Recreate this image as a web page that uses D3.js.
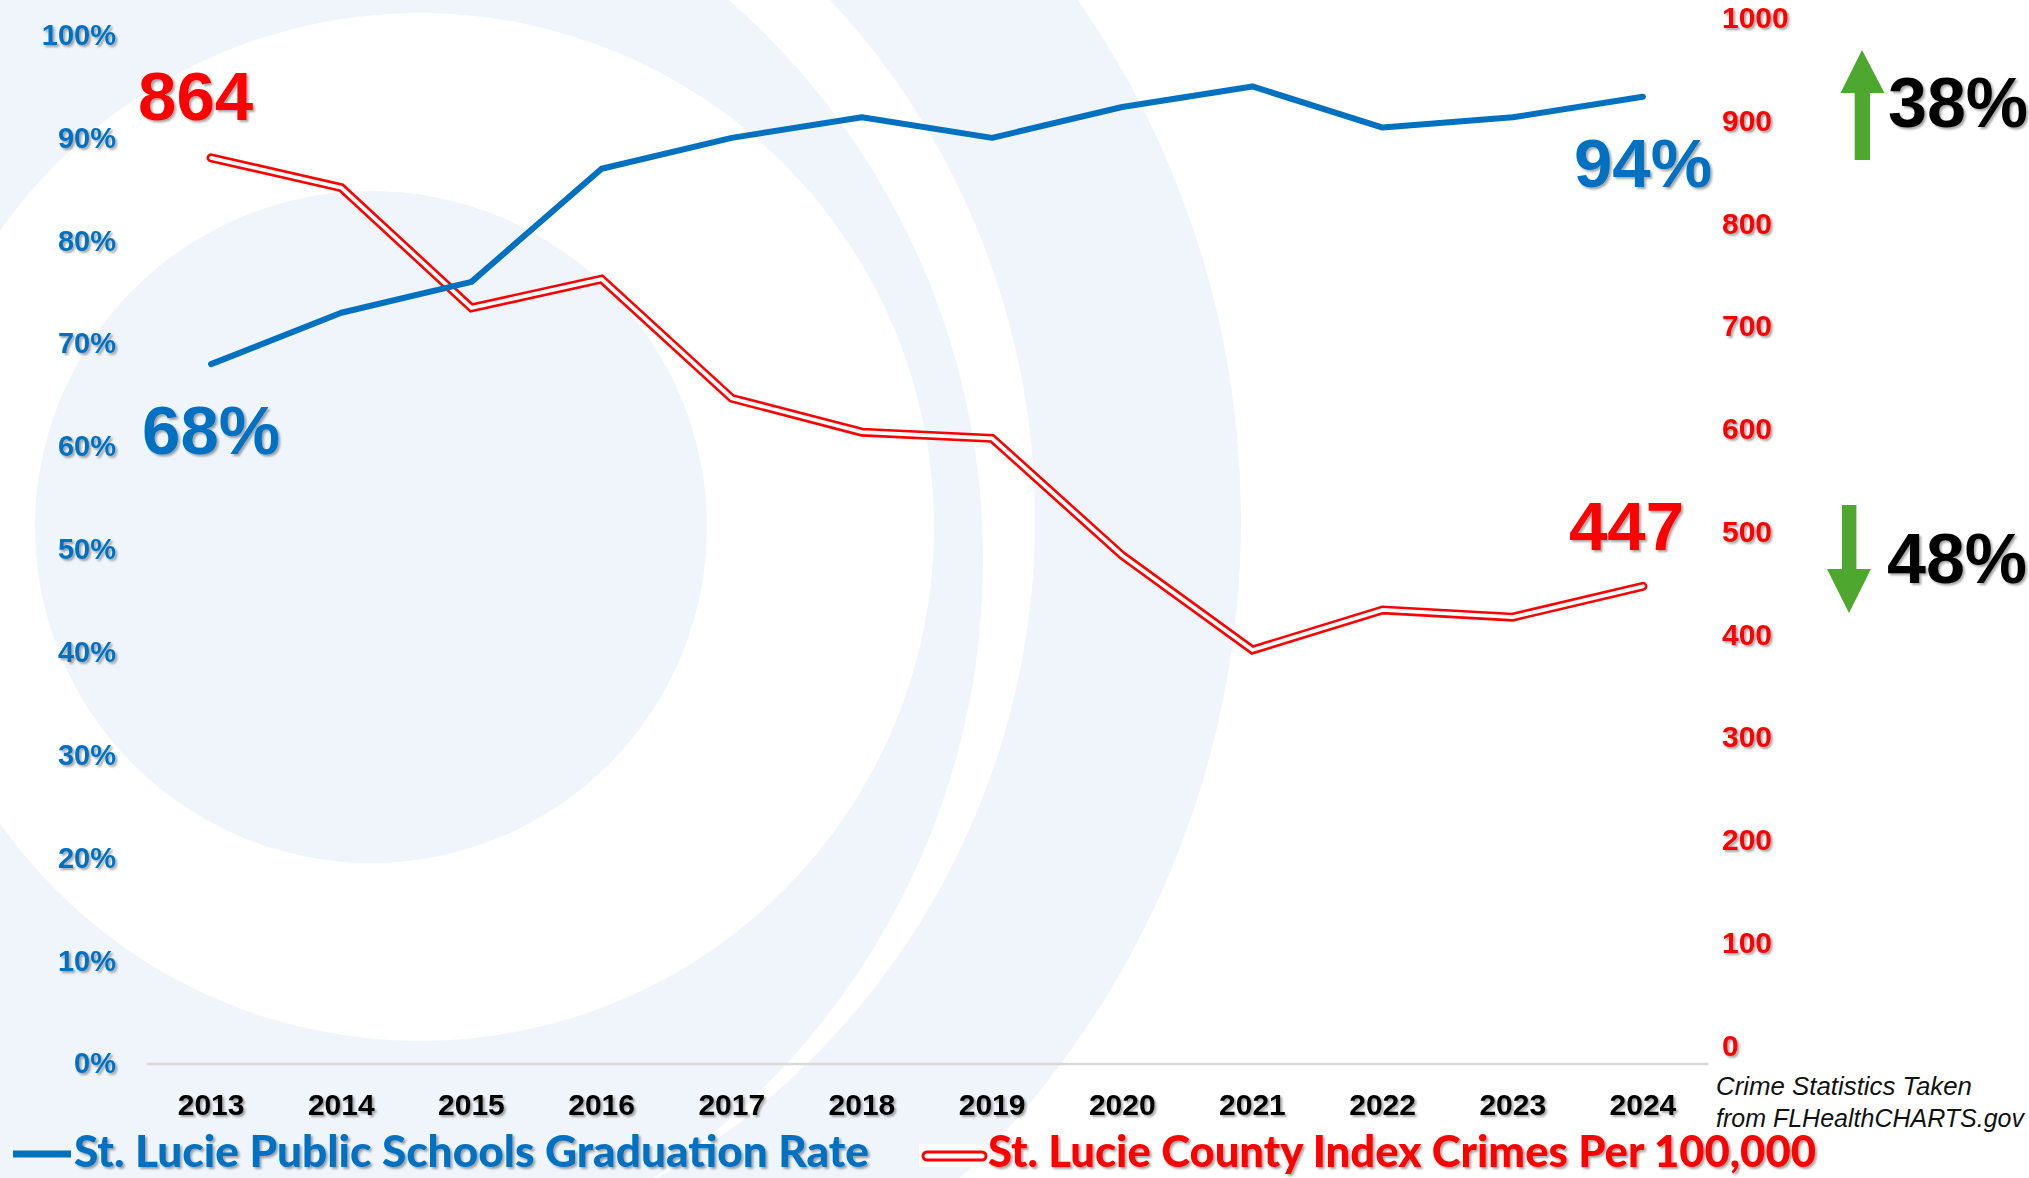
<!DOCTYPE html>
<html>
<head>
<meta charset="utf-8">
<script src="https://cdn.jsdelivr.net/npm/d3@7"></script>
<style>
  html, body { margin: 0; padding: 0; background: #ffffff; }
  svg { display: block; }
</style>
</head>
<body>
<div id="chart"></div>
<script>
// ---------------- DATA ----------------
const years = ["2013","2014","2015","2016","2017","2018","2019","2020","2021","2022","2023","2024"];
const gradRate = [68, 73, 76, 87, 90, 92, 90, 93, 95, 91, 92, 94];          // % (left axis)
const crimeRate = [864, 835, 718, 746, 630, 597, 591, 477, 385, 424, 417, 447]; // per 100,000 (right axis)
const leftTicks = [0, 10, 20, 30, 40, 50, 60, 70, 80, 90, 100];
const rightTicks = [0, 100, 200, 300, 400, 500, 600, 700, 800, 900, 1000];
const seriesNames = ["St. Lucie Public Schools Graduation Rate", "St. Lucie County Index Crimes Per 100,000"];
const changeLabels = ["38%", "48%"];
const sourceLines = ["Crime Statistics Taken", "from FLHealthCHARTS.gov"];

// ---------------- SETUP ----------------
const W = 2029, H = 1178;
const BLUE = "#0070C0", RED = "#FF0000", GREEN = "#4EA72E", LIGHT = "#EFF5FB";

const svg = d3.select("#chart").append("svg").attr("width", W).attr("height", H);
const defs = svg.append("defs");
const sh = defs.append("filter").attr("id", "shadow").attr("x", "-10%").attr("y", "-20%").attr("width", "130%").attr("height", "160%");
sh.append("feDropShadow").attr("dx", 2).attr("dy", 2).attr("stdDeviation", 1.2)
  .attr("flood-color", "#000").attr("flood-opacity", 0.35);

// background decoration (concentric-ish rings)
const bg = svg.append("g");
bg.append("rect").attr("width", W).attr("height", H).attr("fill", "#fff");
const rings = [
  {cx: 330, cy: 520, r: 911, fill: LIGHT},
  {cx: 273, cy: 520, r: 762, fill: "#fff"},
  {cx: 239, cy: 560, r: 744, fill: LIGHT},
  {cx: 420, cy: 527, r: 514, fill: "#fff"},
  {cx: 371, cy: 527, r: 336, fill: LIGHT}
];
bg.selectAll("circle").data(rings).join("circle")
  .attr("cx", d => d.cx).attr("cy", d => d.cy).attr("r", d => d.r).attr("fill", d => d.fill);

// ---------------- SCALES ----------------
const x = d3.scaleBand().domain(years).range([146, 1708]);
const xc = d => x(d) + x.bandwidth() / 2;
const yL = d3.scaleLinear().domain([0, 100]).range([1063.6, 35]);
const yR = d3.scaleLinear().domain([0, 1000]).range([1045.6, 18.1]);

// ---------------- AXES ----------------
const leftAxis = d3.axisLeft(yL).tickValues(leftTicks).tickFormat(d => d + "%").tickSize(0).tickPadding(0);
const gL = svg.append("g").attr("transform", "translate(116,0)").call(leftAxis);
gL.select(".domain").remove();
gL.selectAll("text").attr("fill", BLUE).attr("font-family", "'Liberation Sans', Arial, sans-serif")
  .attr("font-weight", "bold").attr("font-size", 29).attr("filter", "url(#shadow)");

const rightAxis = d3.axisRight(yR).tickValues(rightTicks).tickFormat(d3.format("d")).tickSize(0).tickPadding(0);
const gR = svg.append("g").attr("transform", "translate(1722,0)").call(rightAxis);
gR.select(".domain").remove();
gR.selectAll("text").attr("fill", RED).attr("font-family", "'Liberation Sans', Arial, sans-serif")
  .attr("font-weight", "bold").attr("font-size", 30).attr("filter", "url(#shadow)");

const bottomAxis = d3.axisBottom(x).tickSize(0).tickPadding(0);
const gB = svg.append("g").attr("transform", `translate(0,${yL(0)})`).call(bottomAxis);
gB.select(".domain").attr("stroke", "#D9D9D9").attr("stroke-width", 2.5);
gB.selectAll("text").attr("fill", "#000").attr("font-family", "'Liberation Sans', Arial, sans-serif")
  .attr("font-weight", "bold").attr("font-size", 30).attr("dy", 0).attr("y", 51)
  .attr("filter", "url(#shadow)");

// ---------------- LINES ----------------
const crimeLine = d3.line().x((d, i) => xc(years[i])).y(d => yR(d));
const gradLine = d3.line().x((d, i) => xc(years[i])).y(d => yL(d));

svg.append("path").datum(crimeRate).attr("d", crimeLine).attr("fill", "none")
  .attr("stroke", RED).attr("stroke-width", 9).attr("stroke-linecap", "round").attr("stroke-linejoin", "miter");
svg.append("path").datum(crimeRate).attr("d", crimeLine).attr("fill", "none")
  .attr("stroke", "#fff").attr("stroke-width", 3.8).attr("stroke-linecap", "round").attr("stroke-linejoin", "miter");

svg.append("path").datum(gradRate).attr("d", gradLine).attr("fill", "none")
  .attr("stroke", BLUE).attr("stroke-width", 6).attr("stroke-linecap", "round").attr("stroke-linejoin", "round");

// ---------------- BIG LABELS ----------------
const big = svg.append("g").attr("font-family", "'Liberation Sans', Arial, sans-serif")
  .attr("font-weight", "bold").attr("filter", "url(#shadow)");
const last = years.length - 1;
big.append("text").attr("x", xc(years[0]) - 73).attr("y", yR(crimeRate[0]) - 38)
  .attr("font-size", 69).attr("fill", RED).text(crimeRate[0]);
big.append("text").attr("x", xc(years[0]) - 69).attr("y", yL(gradRate[0]) + 90)
  .attr("font-size", 69).attr("fill", BLUE).text(gradRate[0] + "%");
big.append("text").attr("x", xc(years[last]) - 69).attr("y", yL(gradRate[last]) + 90)
  .attr("font-size", 69).attr("fill", BLUE).text(gradRate[last] + "%");
big.append("text").attr("x", xc(years[last]) - 74).attr("y", yR(crimeRate[last]) - 36)
  .attr("font-size", 69).attr("fill", RED).text(crimeRate[last]);

big.append("text").attr("x", 1888).attr("y", 127).attr("font-size", 70).attr("fill", "#000").text(changeLabels[0]);
big.append("text").attr("x", 1887).attr("y", 583).attr("font-size", 70).attr("fill", "#000").text(changeLabels[1]);

// arrows
const arrowUp = [[1862,50],[1884.5,93],[1870,93],[1870,160],[1854.7,160],[1854.7,93],[1840.5,93]];
const arrowDown = [[1842,505],[1856.4,505],[1856.4,569],[1871,569],[1849,613],[1827,569],[1842,569]];
svg.selectAll("polygon.arrow").data([arrowUp, arrowDown]).join("polygon").attr("class", "arrow")
  .attr("points", d => d.map(p => p.join(",")).join(" ")).attr("fill", GREEN);

// source note
svg.append("g").attr("font-family", "'Liberation Sans', Arial, sans-serif").attr("font-style", "italic")
  .attr("font-size", 25).attr("fill", "#111")
  .selectAll("text").data(sourceLines).join("text")
  .attr("x", 1716).attr("y", (d, i) => 1095 + i * 32)
  .attr("textLength", (d, i) => i === 0 ? 256 : 308).attr("lengthAdjust", "spacingAndGlyphs")
  .text(d => d);

// ---------------- LEGEND ----------------
const lg = svg.append("g");
lg.append("line").attr("x1", 13).attr("x2", 71).attr("y1", 1154).attr("y2", 1154)
  .attr("stroke", BLUE).attr("stroke-width", 7);
lg.append("rect").attr("x", 919).attr("y", 1144).attr("width", 69).attr("height", 23).attr("fill", "#fff");
lg.append("line").attr("x1", 927).attr("x2", 982).attr("y1", 1156).attr("y2", 1156)
  .attr("stroke", RED).attr("stroke-width", 11).attr("stroke-linecap", "round");
lg.append("line").attr("x1", 927).attr("x2", 982).attr("y1", 1156).attr("y2", 1156)
  .attr("stroke", "#fff").attr("stroke-width", 5).attr("stroke-linecap", "round");

lg.selectAll("text").data(seriesNames).join("text")
  .attr("x", (d, i) => i === 0 ? 74 : 988).attr("y", 1167)
  .attr("textLength", (d, i) => i === 0 ? 795 : 828).attr("lengthAdjust", "spacingAndGlyphs")
  .attr("font-family", "Lato, 'Open Sans', sans-serif").attr("font-weight", "900").attr("font-size", 43)
  .attr("fill", (d, i) => i === 0 ? BLUE : RED).attr("filter", "url(#shadow)")
  .text(d => d);
</script>
</body>
</html>
